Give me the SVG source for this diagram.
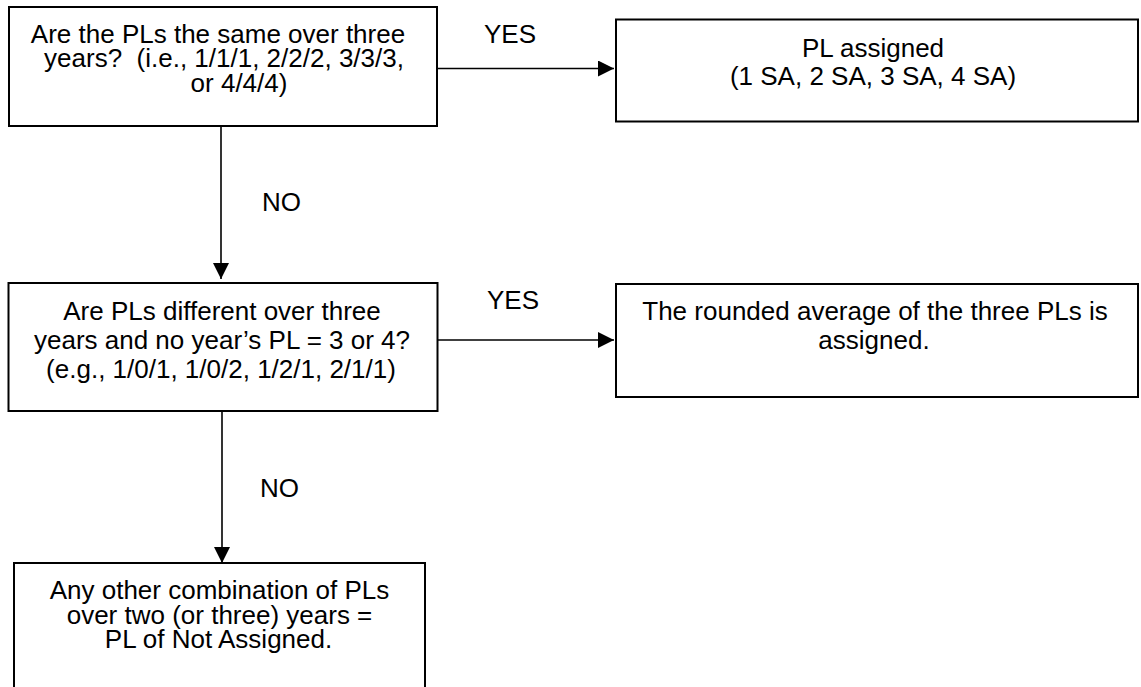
<svg xmlns="http://www.w3.org/2000/svg" width="1141" height="687" viewBox="0 0 1141 687">
<defs>
<style>
.box{fill:#fff;stroke:#000;stroke-width:2}
.t{font-family:"Liberation Sans",Arial,sans-serif;font-size:26px;fill:#000;text-anchor:middle;white-space:pre}
.lbl{font-family:"Liberation Sans",Arial,sans-serif;font-size:26px;fill:#000}
.c{fill:none;stroke:#000;stroke-width:1.6}
</style>
<marker id="ah" markerUnits="userSpaceOnUse" markerWidth="17" markerHeight="17" refX="16" refY="8" orient="auto">
<path d="M0,0 L16,8 L0,16 Z" fill="#000"/>
</marker>
</defs>
<rect width="1141" height="687" fill="#fff"/>
<g id="connectors">
<line class="c" x1="437" y1="68.5" x2="614" y2="68.5" marker-end="url(#ah)"/>
<line class="c" x1="221" y1="126" x2="221" y2="279" marker-end="url(#ah)"/>
<line class="c" x1="438" y1="340" x2="614" y2="340" marker-end="url(#ah)"/>
<line class="c" x1="222" y1="411" x2="222" y2="563" marker-end="url(#ah)"/>
<text class="lbl" x="484" y="43">YES</text>
<text class="lbl" x="262" y="211">NO</text>
<text class="lbl" x="487" y="309">YES</text>
<text class="lbl" x="260" y="497">NO</text>
</g>
<g id="q1">
<rect class="box" x="9" y="7" width="428" height="119"/>
<text class="t" x="218" y="42.5">Are the PLs the same over three</text>
<text class="t" x="224" y="67" xml:space="preserve">years?  (i.e., 1/1/1, 2/2/2, 3/3/3,</text>
<text class="t" x="239" y="92">or 4/4/4)</text>
</g>
<g id="r1">
<rect class="box" x="616" y="19.5" width="522" height="102"/>
<text class="t" x="873" y="57">PL assigned</text>
<text class="t" x="873" y="85">(1 SA, 2 SA, 3 SA, 4 SA)</text>
</g>
<g id="q2">
<rect class="box" x="8.5" y="283" width="429" height="128"/>
<text class="t" x="222" y="319.5">Are PLs different over three</text>
<text class="t" x="222" y="348.5">years and no year’s PL = 3 or 4?</text>
<text class="t" x="221" y="378">(e.g., 1/0/1, 1/0/2, 1/2/1, 2/1/1)</text>
</g>
<g id="r2">
<rect class="box" x="616" y="284" width="522" height="113"/>
<text class="t" x="875" y="320">The rounded average of the three PLs is</text>
<text class="t" x="874" y="349">assigned.</text>
</g>
<g id="q3">
<rect class="box" x="14" y="563" width="411" height="140"/>
<text class="t" x="219.5" y="599">Any other combination of PLs</text>
<text class="t" x="219.5" y="623.5">over two (or three) years =</text>
<text class="t" x="218.5" y="648">PL of Not Assigned.</text>
</g>
</svg>
